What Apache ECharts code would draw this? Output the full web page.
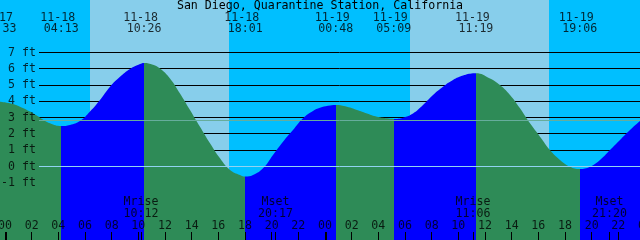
<!DOCTYPE html>
<html><head><meta charset="utf-8">
<script src="https://cdn.jsdelivr.net/npm/echarts@6/dist/echarts.min.js"></script>
<style>html,body{margin:0;padding:0;background:#00BFFF}#c{width:640px;height:240px}</style>
</head><body><div id="c"></div>
<script>
// ---- data ----
const chartTitle = 'San Diego, Quarantine Station, California';
// water level: hours after 11-18 00:00, feet
const tideHours = [-0.375,0.375,1.125,1.875,2.625,3.375,4.217,4.875,5.625,6.375,7.125,7.875,8.625,9.375,10.125,10.433,
  11.1,11.625,12.375,13.125,13.875,14.625,15.375,16.125,16.875,17.625,18.017,18.6,19.35,20.1,20.85,21.6,22.35,23.1,23.625,
  24.225,24.8,25.65,26.4,27.15,27.9,28.65,29.15,29.85,30.6,31.35,32.1,32.85,33.6,34.35,35.1,35.317,
  36.375,37.125,37.875,38.625,39.375,40.125,40.875,41.625,42.375,43.1,43.875,44.625,45.375,46.125,46.875,47.625];
const tideFeet = [3.98,3.88,3.67,3.37,3.00,2.65,2.48,2.55,2.79,3.37,4.08,4.90,5.51,5.99,6.29,6.36,
  6.25,6.02,5.41,4.49,3.47,2.44,1.42,0.50,-0.21,-0.52,-0.62,-0.52,-0.11,0.71,1.52,2.24,2.96,3.41,3.60,
  3.73,3.78,3.67,3.47,3.26,3.06,2.96,2.92,3.00,3.26,3.78,4.39,4.90,5.31,5.58,5.72,5.73,
  5.41,5.00,4.39,3.57,2.65,1.83,1.01,0.40,-0.01,-0.15,-0.01,0.40,1.01,1.63,2.24,2.79];
const eventDates = ['11-17','11-18','11-18','11-18','11-19','11-19','11-19','11-19'];
const eventTimes = ['23:33','04:13','10:26','18:01','00:48','05:09','11:19','19:06'];
const eventKinds = ['H','L','H','L','H','L','H','L'];
const moonNames = ['Mrise','Mset','Mrise','Mset'];
const moonDates = ['11-18','11-18','11-19','11-19'];
const moonTimes = ['10:12','20:17','11:06','21:20'];
const sunriseDates = ['11-18','11-19'];
const sunriseTimes = ['06:22','06:22'];
const sunsetTimes = ['16:48','16:48'];
const depthTicks = [-1,0,1,2,3,4,5,6,7];
const depthLabels = ['-1 ft','0 ft','1 ft','2 ft','3 ft','4 ft','5 ft','6 ft','7 ft'];
const hourTicks = [0,2,4,6,8,10,12,14,16,18,20,22,24,26,28,30,32,34,36,38,40,42,44,46,48];
const hourLabels = ['00','02','04','06','08','10','12','14','16','18','20','22','00','02','04','06','08','10','12','14','16','18','20','22','00'];
const datumFeet = 0;
const mslFeet = 2.82;

// ---- layout / style ----
const X_MIN = -0.375, X_MAX = 47.625;
const Y_MAX = 10.2235, Y_MIN = -4.5131;
const FONT = 'DejaVu Sans Mono';
const FS = 11.6;
const C_DAY = '#87CEEB', C_NIGHT = '#00BFFF', C_RISE = '#0000FF', C_FALL = '#2E8B57';

function toHours(date, time) {
  const d = +date.split('-')[1] - 18;
  const [hh, mm] = time.split(':').map(Number);
  return d * 24 + hh + mm / 60;
}
const eventHours = eventTimes.map((t, i) => toHours(eventDates[i], t));
const moonHours = moonTimes.map((t, i) => toHours(moonDates[i], t));
const sunBands = sunriseDates.map((d, i) => [toHours(d, sunriseTimes[i]), toHours(d, sunsetTimes[i])]);

// colour pieces: after a low the water rises, after a high it falls
const pieces = [];
pieces.push({ lt: eventHours[0], color: eventKinds[0] === 'H' ? C_RISE : C_FALL });
eventHours.forEach((h, i) => {
  const p = { gte: h, color: eventKinds[i] === 'L' ? C_RISE : C_FALL };
  if (i + 1 < eventHours.length) p.lt = eventHours[i + 1];
  pieces.push(p);
});

const txt = { fontFamily: FONT, fontSize: FS, color: '#000', lineHeight: 12 };

const chart = echarts.init(document.getElementById('c'), null, { renderer: 'canvas' });
chart.setOption({
  animation: false,
  backgroundColor: C_NIGHT,
  title: { text: chartTitle, left: 'center', top: 0, padding: 0,
    textStyle: Object.assign({ fontWeight: 'normal' }, txt) },
  grid: [
    { left: 0, right: 0, top: 0, bottom: 0 },
    { left: 39, right: 0, top: 0, bottom: 0 }
  ],
  xAxis: [
    { type: 'value', gridIndex: 0, min: X_MIN, max: X_MAX, show: false },
    { type: 'value', gridIndex: 1, min: 0, max: 1, show: false }
  ],
  yAxis: [
    { type: 'value', gridIndex: 0, min: Y_MIN, max: Y_MAX, show: false },
    { type: 'value', gridIndex: 1, min: Y_MIN, max: Y_MAX, show: false }
  ],
  visualMap: { type: 'piecewise', show: false, dimension: 0, seriesIndex: 2, pieces: pieces },
  series: [
    { // daylight bands
      type: 'custom', xAxisIndex: 0, yAxisIndex: 0, z: 1, silent: true,
      data: sunBands,
      renderItem: (params, api) => {
        const a = api.coord([api.value(0), Y_MAX]);
        const b = api.coord([api.value(1), Y_MIN]);
        const x1 = Math.round(a[0]), x2 = Math.round(b[0]);
        return { type: 'rect', shape: { x: x1, y: a[1], width: x2 - x1, height: b[1] - a[1] }, style: { fill: C_DAY } };
      }
    },
    { // depth lines
      type: 'custom', xAxisIndex: 1, yAxisIndex: 1, z: 2, silent: true,
      data: depthTicks.map(v => [0, v]),
      renderItem: (params, api) => {
        const p = api.coord([0, api.value(1)]);
        const y = Math.round(p[1] - 0.5) + 0.5;
        const cs = params.coordSys;
        return { type: 'line', shape: { x1: cs.x, y1: y, x2: cs.x + cs.width, y2: y }, style: { stroke: '#000', lineWidth: 1 } };
      }
    },
    { // water
      type: 'line', xAxisIndex: 0, yAxisIndex: 0, z: 3, silent: true,
      data: tideHours.map((h, i) => [h, tideFeet[i]]),
      smooth: 0.45, symbol: 'none', showSymbol: false,
      lineStyle: { width: 0, opacity: 0 },
      areaStyle: { opacity: 1, origin: 'start' }
    },
    { // datum and mean lines
      type: 'custom', xAxisIndex: 1, yAxisIndex: 1, z: 4, silent: true,
      data: [[0, datumFeet], [0, mslFeet]],
      renderItem: (params, api) => {
        const p = api.coord([0, api.value(1)]);
        const y = Math.round(p[1] - 0.5) + 0.5;
        const cs = params.coordSys;
        const col = params.dataIndex === 0 ? '#92d3f2' : '#66ad9c';
        return { type: 'line', shape: { x1: cs.x, y1: y, x2: cs.x + cs.width, y2: y }, style: { stroke: col, lineWidth: 1 } };
      }
    },
    { // depth labels
      type: 'scatter', xAxisIndex: 1, yAxisIndex: 1, z: 6, silent: true, clip: false,
      symbolSize: 0,
      data: depthTicks.map(v => [0, v]),
      label: Object.assign({ show: true, position: 'left', distance: 3,
        formatter: p => depthLabels[p.dataIndex] }, txt)
    },
    { // hour ticks
      type: 'custom', xAxisIndex: 0, yAxisIndex: 0, z: 5, silent: true, clip: false,
      data: hourTicks.map(h => [h]),
      renderItem: (params, api) => {
        const h = api.value(0);
        const p = api.coord([h, Y_MIN]);
        const w = h % 24 === 0 ? 2 : 1;
        return { type: 'rect', shape: { x: Math.floor(p[0]), y: p[1] - 8, width: w, height: 8 }, style: { fill: '#000' } };
      }
    },
    { // moon ticks
      type: 'custom', xAxisIndex: 0, yAxisIndex: 0, z: 5, silent: true, clip: false,
      data: moonHours.map(h => [h]),
      renderItem: (params, api) => {
        const p = api.coord([api.value(0), Y_MIN]);
        return { type: 'rect', shape: { x: Math.floor(p[0]), y: p[1] - 8, width: 1, height: 8 }, style: { fill: '#000' } };
      }
    },
    { // hour labels
      type: 'scatter', xAxisIndex: 0, yAxisIndex: 0, z: 6, silent: true, clip: false, symbolSize: 0,
      data: hourTicks.map(h => [h, Y_MIN]),
      label: Object.assign({ show: true, position: 'inside', offset: [0, -14.5],
        formatter: p => hourLabels[p.dataIndex] }, txt)
    },
    { // moon names
      type: 'scatter', xAxisIndex: 0, yAxisIndex: 0, z: 6, silent: true, clip: false, symbolSize: 0,
      data: moonHours.map(h => [h, Y_MIN]),
      label: Object.assign({ show: true, position: 'inside', offset: [0, -38.5],
        formatter: p => moonNames[p.dataIndex] }, txt)
    },
    { // moon times
      type: 'scatter', xAxisIndex: 0, yAxisIndex: 0, z: 6, silent: true, clip: false, symbolSize: 0,
      data: moonHours.map(h => [h, Y_MIN]),
      label: Object.assign({ show: true, position: 'inside', offset: [0, -26.5],
        formatter: p => moonTimes[p.dataIndex] }, txt)
    },
    { // tide event dates
      type: 'scatter', xAxisIndex: 0, yAxisIndex: 0, z: 6, silent: true, clip: false, symbolSize: 0,
      data: eventHours.map(h => [h, Y_MAX]),
      label: Object.assign({ show: true, position: 'inside', offset: [-3.5, 17.5],
        formatter: p => eventDates[p.dataIndex] }, txt)
    },
    { // tide event times
      type: 'scatter', xAxisIndex: 0, yAxisIndex: 0, z: 6, silent: true, clip: false, symbolSize: 0,
      data: eventHours.map(h => [h, Y_MAX]),
      label: Object.assign({ show: true, position: 'inside', offset: [0, 28.8],
        formatter: p => eventTimes[p.dataIndex] }, txt)
    }
  ]
});
</script></body></html>
